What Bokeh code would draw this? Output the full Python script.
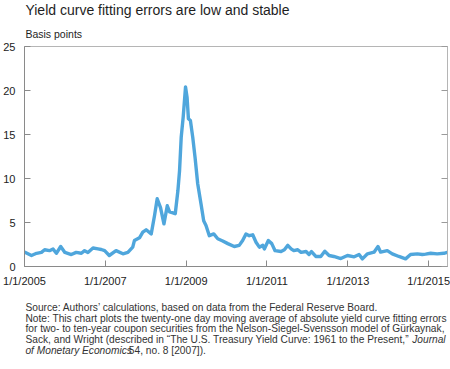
import pandas as pd
from bokeh.plotting import figure
from bokeh.layouts import column
from bokeh.models import Range1d, FixedTicker, LinearAxis, Label, ColumnDataSource
from bokeh.embed import file_html
from bokeh.resources import INLINE

# ---- data ----
dates = [
    "2005-01-05", "2005-03-05", "2005-04-20", "2005-06-03", "2005-07-02", "2005-08-15",
    "2005-09-16", "2005-10-16", "2005-11-24", "2006-01-01", "2006-02-28", "2006-04-13",
    "2006-05-30", "2006-06-28", "2006-07-28", "2006-09-12", "2006-10-27", "2006-11-26",
    "2006-12-26", "2007-02-06", "2007-04-08", "2007-06-09", "2007-07-24", "2007-09-06",
    "2007-09-21", "2007-11-06", "2007-12-06", "2008-01-05", "2008-02-20", "2008-03-21",
    "2008-04-14", "2008-05-14", "2008-06-14", "2008-07-14", "2008-08-04", "2008-09-03",
    "2008-09-24", "2008-10-18", "2008-11-02", "2008-11-17", "2008-12-05", "2008-12-26",
    "2009-01-09", "2009-01-21", "2009-02-08", "2009-03-01", "2009-03-22", "2009-04-15",
    "2009-05-15", "2009-06-08", "2009-06-29", "2009-07-29", "2009-09-07", "2009-10-13",
    "2009-11-27", "2010-01-12", "2010-03-11", "2010-04-25", "2010-05-26", "2010-06-25",
    "2010-07-25", "2010-08-25", "2010-09-24", "2010-10-24", "2010-11-24", "2010-12-08",
    "2011-01-13", "2011-02-13", "2011-03-15", "2011-05-08", "2011-06-07", "2011-07-08",
    "2011-08-07", "2011-08-31", "2011-10-06", "2011-11-05", "2011-12-20", "2012-01-16",
    "2012-02-07", "2012-03-17", "2012-05-01", "2012-06-06", "2012-07-15", "2012-08-27",
    "2012-10-29", "2012-12-28", "2013-02-27", "2013-04-12", "2013-05-12", "2013-06-27",
    "2013-08-25", "2013-09-30", "2013-10-24", "2013-12-23", "2014-02-06", "2014-04-07",
    "2014-06-06", "2014-07-21", "2014-09-20", "2014-11-04", "2014-12-04", "2015-01-19",
    "2015-03-19", "2015-05-18", "2015-06-18",
]
errors_bp = [
    1.63, 1.25, 1.5, 1.6, 1.9, 1.8,
    2.0, 1.5, 2.27, 1.6, 1.36, 1.6,
    1.5, 1.8, 1.6, 2.1, 2.0, 1.93,
    1.8, 1.25, 1.8, 1.44, 1.6, 2.2,
    2.95, 3.26, 3.9, 4.17, 3.7, 5.8,
    7.7, 6.7, 4.85, 6.9, 6.2, 6.1,
    6.0, 8.6, 10.9, 14.7, 17.0, 20.4,
    19.2, 16.8, 16.6, 14.7, 12.4, 9.4,
    7.1, 5.2, 4.66, 3.5, 3.7, 3.15,
    2.9, 2.6, 2.27, 2.4, 2.95, 3.7,
    3.5, 3.6, 2.76, 2.2, 2.4, 2.0,
    2.95, 2.6, 1.8, 1.7, 1.9, 2.4,
    2.0, 1.8, 1.9, 1.6, 1.7, 1.36,
    1.7, 1.14, 1.14, 1.74, 1.25, 1.14,
    0.9, 1.25, 1.1, 1.36, 0.87, 1.44,
    1.63, 2.27, 1.63, 1.8, 1.44, 1.14,
    0.87, 1.36, 1.44, 1.36, 1.4, 1.5,
    1.44, 1.5, 1.6,
]
x_tick_dates = ["2005-01-01", "2007-01-01", "2009-01-01", "2011-01-01", "2013-01-01", "2015-01-01"]
x_tick_labels = ["1/1/2005", "1/1/2007", "1/1/2009", "1/1/2011", "1/1/2013", "1/1/2015"]
y_ticks = [0, 5, 10, 15, 20, 25]

title_text = "Yield curve fitting errors are low and stable"
unit_text = "Basis points"
source_text = "Source: Authors\u2019 calculations, based on data from the Federal Reserve Board."
note_lines = [
    "Note: This chart plots the twenty-one day moving average of absolute yield curve fitting errors",
    "for two- to ten-year coupon securities from the Nelson-Siegel-Svensson model of G\u00fcrkaynak,",
]
note_line3 = "Sack, and Wright (described in \u201cThe U.S. Treasury Yield Curve: 1961 to the Present,\u201d"
note_line3_italic = "Journal"
note_line4_italic = "of Monetary Economics"
note_line4 = "54, no. 8 [2007])."

# ---- layout constants (page pixels) ----
FONT = "Liberation Sans"
W, H = 450, 369
HEAD_H = 40          # header strip: y 0..40
FOOT_TOP = 295       # footer strip: y 295..369
FL, FT, FR, FB = 23, 46, 447, 266  # chart frame edges in page px


def text_panel(y_top, y_bottom):
    f = figure(
        width=W, height=y_bottom - y_top, output_backend="svg", toolbar_location=None,
        x_range=Range1d(0, W), y_range=Range1d(y_bottom, y_top),
        x_axis_location=None, y_axis_location=None, min_border=0,
    )
    f.outline_line_color = None
    f.xgrid.visible = False
    f.ygrid.visible = False
    f.background_fill_color = "white"
    f.border_fill_color = "white"
    return f


def add_text(fig, text, x, yc, size, style="normal", color="#1e1e1e", align="left"):
    fig.add_layout(Label(
        x=x, y=yc, text=text,
        text_font=FONT, text_font_size=f"{size}px", text_font_style=style,
        text_color=color, text_baseline="middle", text_align=align,
    ))


# ---- header ----
head = text_panel(0, HEAD_H)
add_text(head, title_text, 1, 9, 14)
add_text(head, unit_text, 1, 33, 10.5)

# ---- main chart ----
src = ColumnDataSource(dict(x=pd.to_datetime(dates), y=errors_bp))
p = figure(
    width=W, height=FOOT_TOP - HEAD_H, output_backend="svg", toolbar_location=None,
    x_axis_type="datetime",
    x_range=Range1d(pd.Timestamp("2005-01-01"), pd.Timestamp("2015-06-20")),
    y_range=Range1d(0, 25),
    min_border_left=FL, min_border_right=W - FR,
    min_border_top=FT - HEAD_H, min_border_bottom=FOOT_TOP - FB,
)
p.background_fill_color = "white"
p.border_fill_color = "white"
p.outline_line_color = "#b5b5b5"
p.outline_line_width = 1
p.xgrid.visible = False
p.ygrid.visible = False

p.line("x", "y", source=src, line_color="#4fa6dc", line_width=3.4,
       line_join="round", line_cap="round")

tick_ms = [pd.Timestamp(d).value // 10**6 for d in x_tick_dates]
xa = p.xaxis[0]
xa.ticker = FixedTicker(ticks=tick_ms)
xa.major_label_overrides = {float(t): lab for t, lab in zip(tick_ms, x_tick_labels)}
xa.major_tick_in = 6
xa.major_tick_out = 0
xa.minor_tick_line_color = None
xa.axis_line_color = "#8a8a8a"
xa.major_tick_line_color = "#8a8a8a"
xa.major_label_text_font = FONT
xa.major_label_text_font_size = "11px"
xa.major_label_text_color = "#222222"
xa.major_label_standoff = 8

ya = p.yaxis[0]
ya.ticker = FixedTicker(ticks=y_ticks)
ya.major_tick_in = 6
ya.major_tick_out = 0
ya.minor_tick_line_color = None
ya.axis_line_color = "#8a8a8a"
ya.major_tick_line_color = "#8a8a8a"
ya.major_label_text_font = FONT
ya.major_label_text_font_size = "11px"
ya.major_label_text_color = "#222222"
ya.major_label_standoff = 9

ra = LinearAxis(ticker=FixedTicker(ticks=y_ticks))
ra.major_tick_in = 6
ra.major_tick_out = 0
ra.minor_tick_line_color = None
ra.axis_line_color = "#b5b5b5"
ra.major_tick_line_color = "#9a9a9a"
ra.major_label_text_alpha = 0
ra.major_label_text_font_size = "1px"
ra.major_label_standoff = 0
p.add_layout(ra, "right")

# ---- footer ----
foot = text_panel(FOOT_TOP, H)
add_text(foot, source_text, 1, 307, 10.2, color="#333333")
y0, dy = 317.5, 10.7
for i, line in enumerate(note_lines):
    add_text(foot, line, 1, y0 + i * dy, 10.2, color="#333333")
add_text(foot, note_line3, 1, y0 + 2 * dy, 10.2, color="#333333")
add_text(foot, note_line3_italic, 448, y0 + 2 * dy, 10.2, style="italic", color="#333333", align="right")
add_text(foot, note_line4_italic, 1, y0 + 3 * dy, 10.2, style="italic", color="#333333")
add_text(foot, note_line4, 111, y0 + 3 * dy, 10.2, color="#333333")

layout = column(head, p, foot, spacing=0)
open("out.html", "w").write(file_html(layout, INLINE))
